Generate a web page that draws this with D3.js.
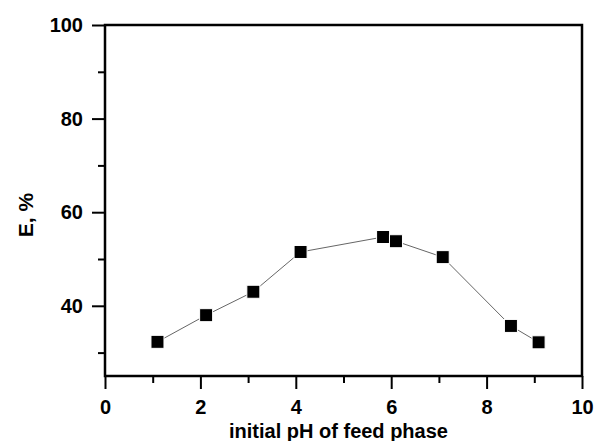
<!DOCTYPE html>
<html lang="en">
<head>
  <meta charset="UTF-8">
  <title>E vs pH</title>
  <script src="https://d3js.org/d3.v7.min.js"></script>
  <style>
    body { margin: 0; background: #fff; }
    .axis text { font: bold 20px "Liberation Sans", Arial, sans-serif; fill: #000; }
    .axis .domain { stroke: none; }
    .axis line { stroke: #000; stroke-width: 2; }
  </style>
</head>
<body>
  <svg id="chart" width="595" height="441"></svg>
  <script>
    // values
    const phValues = [1.1, 2.12, 3.11, 4.1, 5.83, 6.1, 7.08, 8.51, 9.09];
    const eValues = [32.3, 38.0, 43.0, 51.5, 54.7, 53.8, 50.4, 35.7, 32.2];
    const xMajorTicks = [0, 2, 4, 6, 8, 10];
    const xMinorTicks = [1, 3, 5, 7, 9];
    const yMajorTicks = [40, 60, 80, 100];
    const yMinorTicks = [30, 50, 70, 90];

    const svg = d3.select("svg#chart");
    const margin = {top: 25, right: 13, bottom: 65, left: 105};
    const width = 595 - margin.left - margin.right;
    const height = 441 - margin.top - margin.bottom;

    const x = d3.scaleLinear().domain([0, 10]).range([0, width]);
    const y = d3.scaleLinear().domain([25, 100]).range([height, 0]);

    const g = svg.append("g").attr("transform", `translate(${margin.left},${margin.top})`);

    // axes with outward ticks
    g.append("g").attr("class", "axis")
      .attr("transform", `translate(0,${height})`)
      .call(d3.axisBottom(x).tickValues(xMajorTicks).tickSize(13).tickPadding(11));
    g.append("g").attr("class", "axis")
      .attr("transform", `translate(0,${height})`)
      .call(d3.axisBottom(x).tickValues(xMinorTicks).tickSize(7).tickFormat(""));
    g.append("g").attr("class", "axis")
      .call(d3.axisLeft(y).tickValues(yMajorTicks).tickSize(13).tickPadding(9));
    g.append("g").attr("class", "axis")
      .call(d3.axisLeft(y).tickValues(yMinorTicks).tickSize(7).tickFormat(""));

    // frame
    g.append("rect")
      .attr("x", 0).attr("y", 0)
      .attr("width", width).attr("height", height)
      .attr("fill", "none")
      .attr("stroke", "#000")
      .attr("stroke-width", 2.5);

    const data = phValues.map((d, i) => ({ph: d, e: eValues[i]}));

    g.append("path")
      .datum(data)
      .attr("fill", "none")
      .attr("stroke", "#666")
      .attr("stroke-width", 1)
      .attr("d", d3.line().x(d => x(d.ph)).y(d => y(d.e)));

    const s = 13;
    g.selectAll("rect.pt")
      .data(data)
      .join("rect")
      .attr("class", "pt")
      .attr("x", d => x(d.ph) - s / 2)
      .attr("y", d => y(d.e) - s / 2)
      .attr("width", s)
      .attr("height", s)
      .attr("fill", "#000")
      .attr("stroke", "#fff")
      .attr("stroke-width", 1);

    // titles
    svg.append("text")
      .attr("x", margin.left + width / 2 - 5)
      .attr("y", 438)
      .attr("text-anchor", "middle")
      .style("font", "bold 20px 'Liberation Sans', Arial, sans-serif")
      .text("initial pH of feed phase");

    svg.append("text")
      .attr("transform", `translate(33,215) rotate(-90)`)
      .attr("text-anchor", "middle")
      .style("font", "bold 21px 'Liberation Sans', Arial, sans-serif")
      .text("E, %");
  </script>
</body>
</html>
